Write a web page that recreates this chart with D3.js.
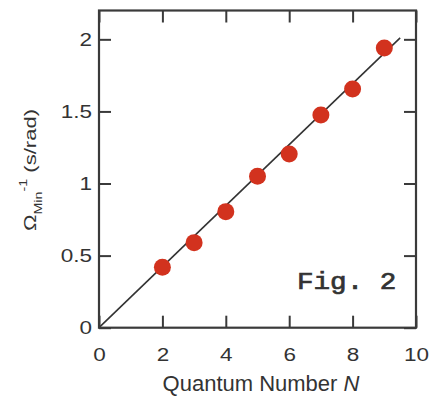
<!DOCTYPE html>
<html><head><meta charset="utf-8">
<script src="https://cdn.jsdelivr.net/npm/d3@7"></script>
<style>body{margin:0;background:#fff} svg{display:block}</style>
</head><body><svg id="c" width="442" height="397"></svg>
<script>
// ---- data ----
const quantumN = [2, 3, 4, 5, 6, 7, 8, 9];
const omegaInv = [0.42, 0.59, 0.805, 1.05, 1.205, 1.475, 1.655, 1.94];
const fitN = [0, 9.5];
const fitV = [0, 2.01];
const xTicks = [0, 2, 4, 6, 8, 10];
const xTickLabels = ["0", "2", "4", "6", "8", "10"];
const yTicks = [0, 0.5, 1, 1.5, 2];
const yTickLabels = ["0", "0.5", "1", "1.5", "2"];

const svg = d3.select("#c");
const L = 99, R = 416, T = 10.5, B = 327.7;
const x = d3.scaleLinear().domain([0, 10]).range([L, R]);
const y = d3.scaleLinear().domain([0, 2.2]).range([B, T]);
const axisColor = "#3a3a3a";
const sans = "'Liberation Sans', Arial, Helvetica, sans-serif";

// fit line
svg.append("path")
  .datum(fitN.map((n, i) => [n, fitV[i]]))
  .attr("d", d3.line().x(d => x(d[0])).y(d => y(d[1])))
  .attr("fill", "none").attr("stroke", "#333").attr("stroke-width", 1.6);

// points
svg.append("g").selectAll("circle")
  .data(quantumN.map((n, i) => [n, omegaInv[i]]))
  .join("circle")
  .attr("cx", d => x(d[0])).attr("cy", d => y(d[1]))
  .attr("r", 8.5).attr("fill", "#d2321e");

// axes
function styleAxis(g) {
  g.select(".domain").remove();
  g.selectAll(".tick line").attr("stroke", axisColor).attr("stroke-width", 2);
}
const sx = 1.25;
const gb = svg.append("g").attr("transform", `translate(0,${B})`)
  .call(d3.axisBottom(x).tickValues(xTicks).tickFormat((d, i) => xTickLabels[i])
    .tickSizeInner(-12).tickSizeOuter(0).tickPadding(21));
styleAxis(gb);
gb.selectAll(".tick text").attr("font-family", sans).attr("font-size", 18)
  .attr("fill", "#333").attr("transform", `scale(${sx},1)`);

svg.append("g").attr("transform", `translate(0,${T})`)
  .call(d3.axisTop(x).tickValues(xTicks).tickFormat("").tickSizeInner(-12).tickSizeOuter(0))
  .call(styleAxis);

const gl = svg.append("g").attr("transform", `translate(${L},0)`)
  .call(d3.axisLeft(y).tickValues(yTicks).tickFormat((d, i) => yTickLabels[i])
    .tickSizeInner(-12).tickSizeOuter(0).tickPadding(7));
styleAxis(gl);
gl.selectAll(".tick text").attr("font-family", sans).attr("font-size", 18)
  .attr("fill", "#333").attr("x", 0).attr("transform", `translate(-7,0) scale(${sx},1)`);

svg.append("g").attr("transform", `translate(${R},0)`)
  .call(d3.axisRight(y).tickValues(yTicks).tickFormat("").tickSizeInner(-12).tickSizeOuter(0))
  .call(styleAxis);

// frame
svg.append("rect").attr("x", L).attr("y", T).attr("width", R - L).attr("height", B - T)
  .attr("fill", "none").attr("stroke", axisColor).attr("stroke-width", 2.2);

// x title
const xt = svg.append("text").attr("x", 261).attr("y", 391)
  .attr("text-anchor", "middle").attr("font-family", sans).attr("font-size", 22).attr("fill", "#333");
xt.append("tspan").text("Quantum Number ");
xt.append("tspan").attr("font-style", "italic").text("N");

// y title
const yt = svg.append("g").attr("transform", "translate(36,170) rotate(-90) scale(1.3,1)")
  .append("text").attr("text-anchor", "middle").attr("font-family", sans)
  .attr("font-size", 17).attr("fill", "#333");
yt.append("tspan").text("Ω");
yt.append("tspan").attr("font-size", 11).attr("dy", 6).text("Min");
yt.append("tspan").attr("font-size", 11).attr("dy", -15).text("-1");
yt.append("tspan").attr("dy", 9).text(" (s/rad)");

// Fig. 2 label
svg.append("g").attr("transform", "translate(297,289) scale(1.15,1)")
  .append("text").attr("font-family", "'Liberation Mono', 'Courier New', monospace")
  .attr("font-size", 24).attr("fill", "#333")
  .attr("stroke", "#333").attr("stroke-width", 0.7).text("Fig. 2");
</script></body></html>
